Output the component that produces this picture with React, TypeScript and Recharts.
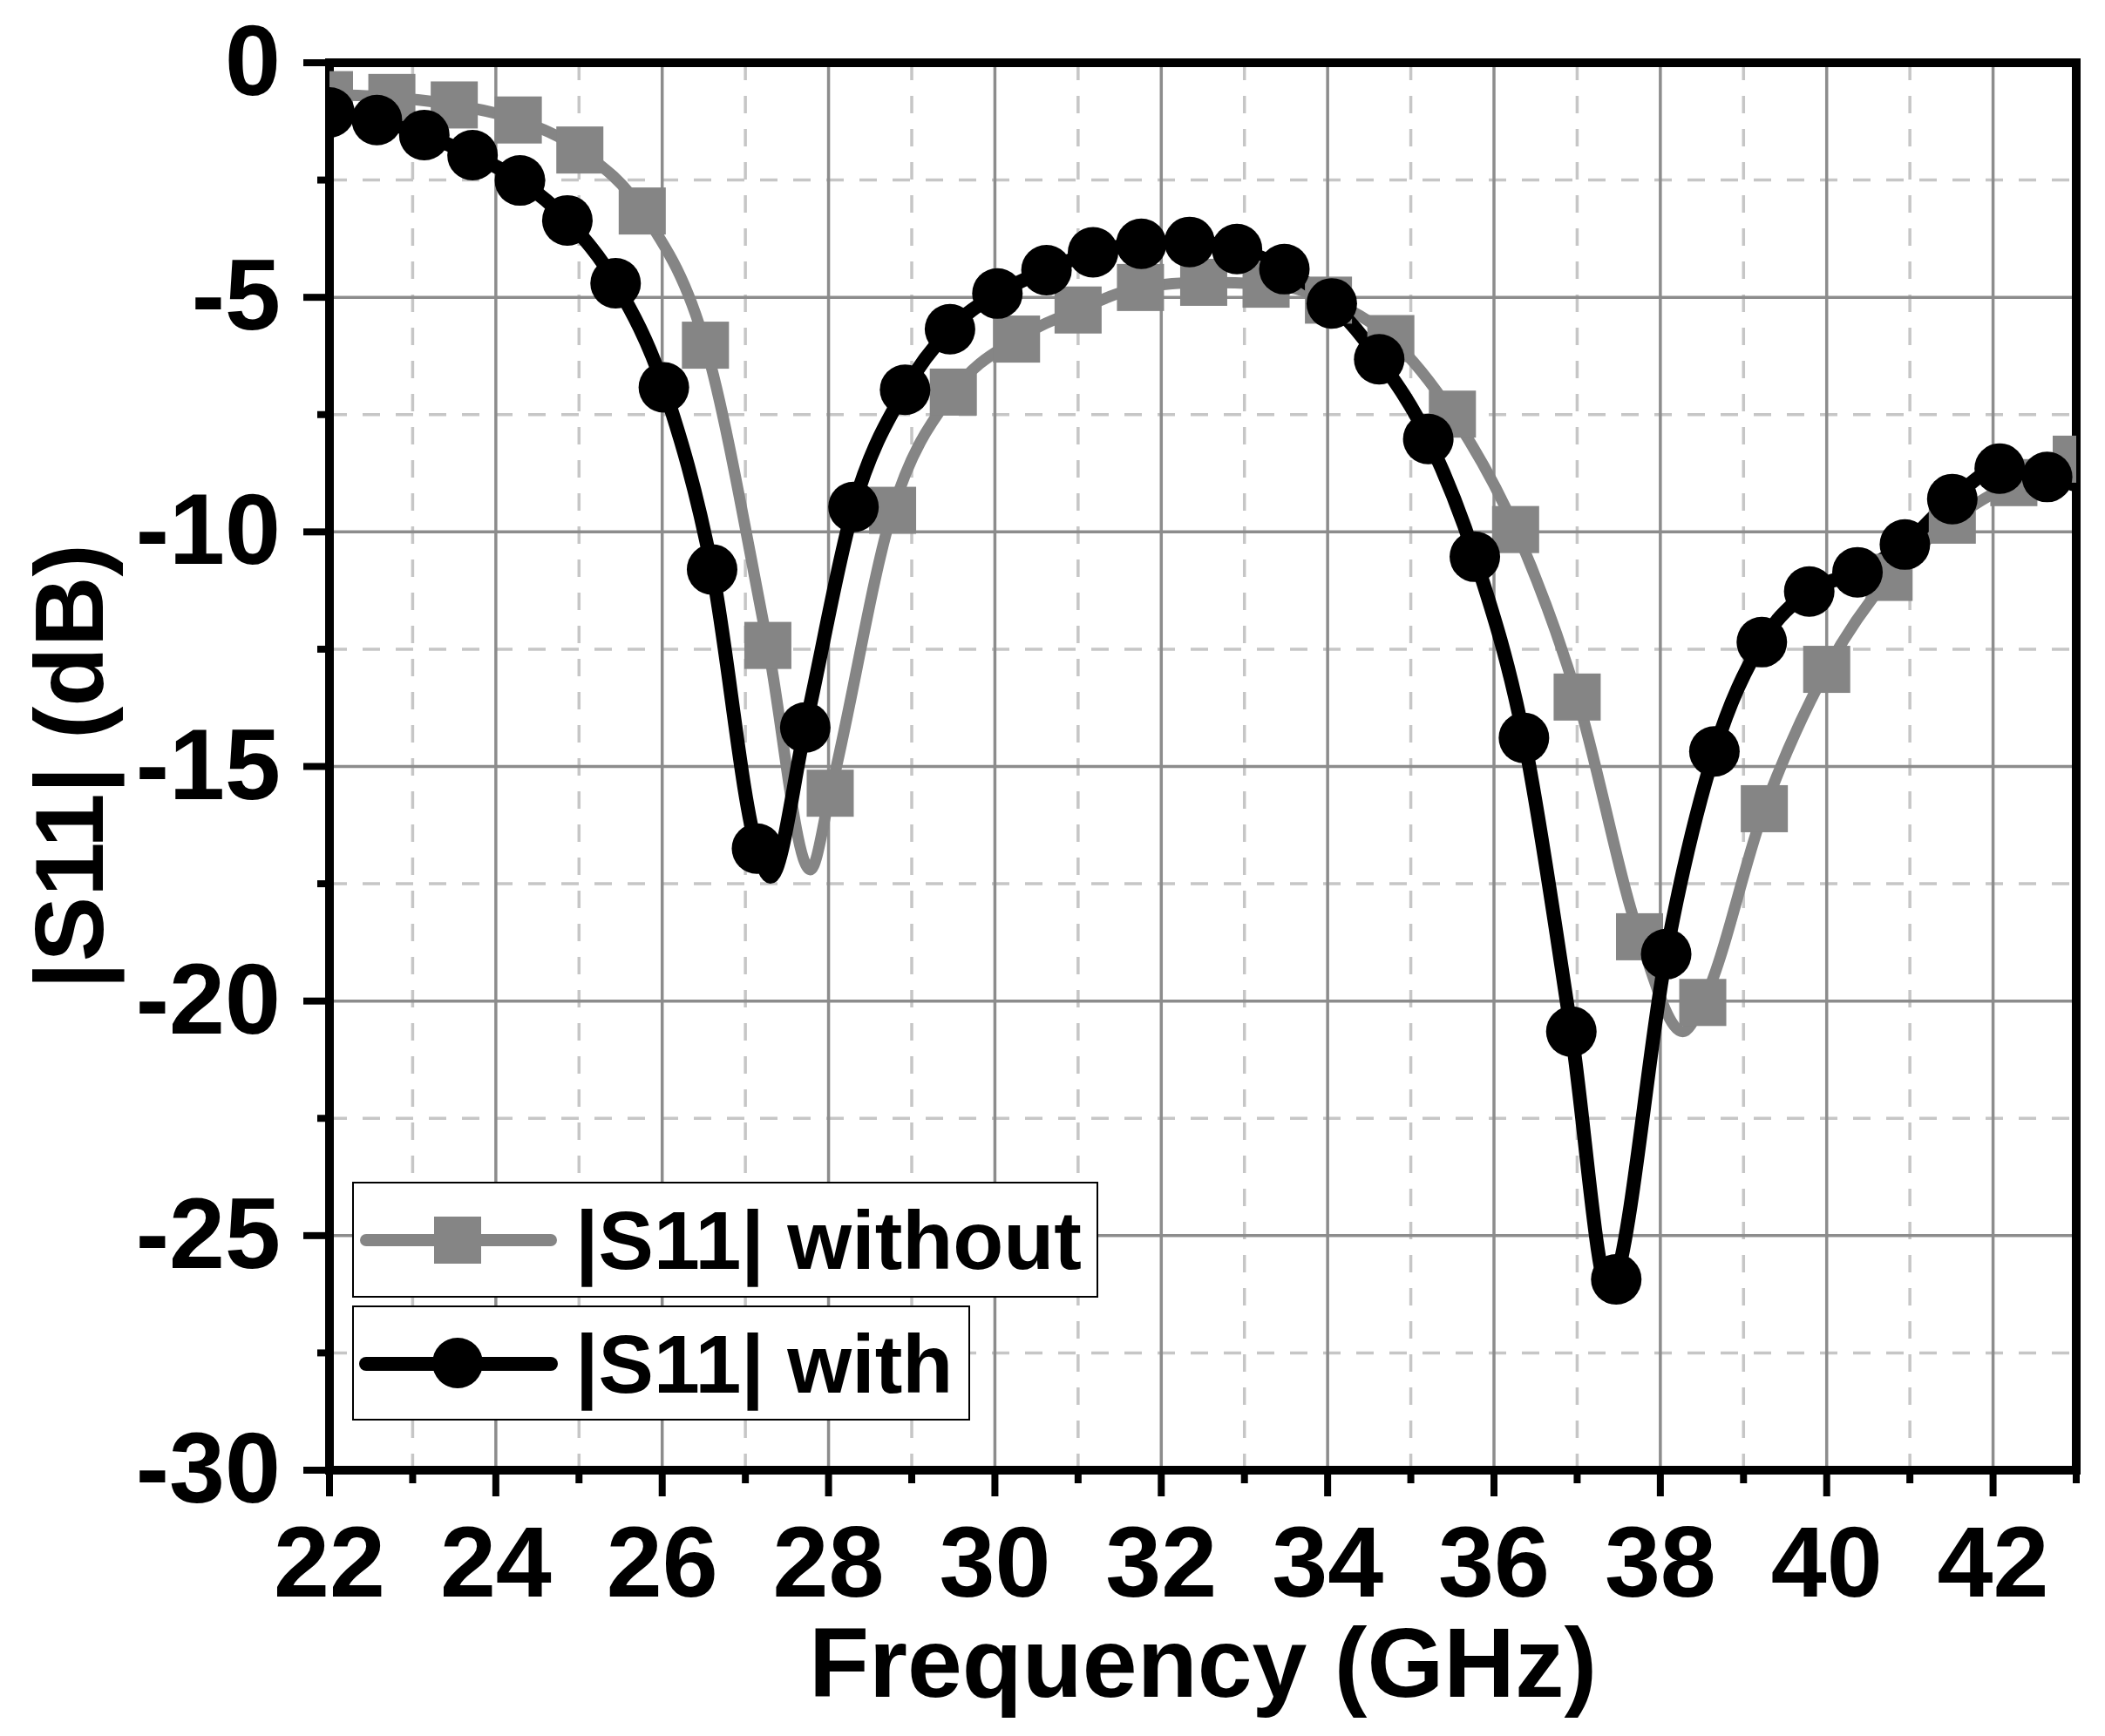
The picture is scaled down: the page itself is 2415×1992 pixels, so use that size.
import React from 'react';
import { ComposedChart, Line, XAxis, YAxis, CartesianGrid, Legend, ReferenceLine } from 'recharts';

// ---------- data ----------
// |S11| without : marker frequencies (GHz) and values (dB)
const withoutFreq = [22.0, 22.75, 23.5, 24.27, 25.01, 25.76, 26.52, 27.27, 28.02, 28.77, 29.5, 30.26, 31.0, 31.75, 32.51, 33.26, 34.01, 34.76, 35.5, 36.26, 37.0, 37.75, 38.51, 39.25, 40.0, 40.75, 41.51, 42.25, 43.0];
const withoutS11 = [-0.68, -0.74, -0.9, -1.22, -1.86, -3.16, -6.02, -12.42, -15.57, -9.54, -7.02, -5.89, -5.27, -4.79, -4.68, -4.72, -5.06, -5.88, -7.49, -9.95, -13.52, -18.63, -20.03, -15.9, -12.93, -10.97, -9.75, -8.95, -8.45];
// curve vertices between markers (resonance minima)
const withoutCurveFreq = [27.78, 38.27];
const withoutCurveS11 = [-17.2, -20.65];

// |S11| with : marker frequencies (GHz) and values (dB)
const withFreq = [22.0, 22.57, 23.14, 23.72, 24.29, 24.86, 25.44, 26.02, 26.6, 27.14, 27.72, 28.3, 28.92, 29.46, 30.03, 30.62, 31.18, 31.76, 32.34, 32.91, 33.48, 34.05, 34.62, 35.21, 35.77, 36.36, 36.93, 37.47, 38.07, 38.65, 39.22, 39.79, 40.37, 40.94, 41.51, 42.08, 42.65];
const withS11 = [-1.06, -1.22, -1.54, -1.97, -2.51, -3.36, -4.7, -6.92, -10.8, -16.75, -14.17, -9.47, -6.97, -5.68, -4.92, -4.42, -4.04, -3.86, -3.82, -3.97, -4.4, -5.13, -6.32, -8.02, -10.53, -14.39, -20.65, -25.93, -19.0, -14.68, -12.35, -11.27, -10.86, -10.27, -9.3, -8.65, -8.83];
const withCurveFreq = [27.3, 37.4, 43.0];
const withCurveS11 = [-17.35, -26.3, -9.0];

// axes
const xDomain = [22, 43];
const yDomain = [-30, 0];
const xTicks = [22, 23, 24, 25, 26, 27, 28, 29, 30, 31, 32, 33, 34, 35, 36, 37, 38, 39, 40, 41, 42, 43];
const yTicks = [-30, -27.5, -25, -22.5, -20, -17.5, -15, -12.5, -10, -7.5, -5, -2.5, 0];
const xMajorGrid = [22, 24, 26, 28, 30, 32, 34, 36, 38, 40, 42];
const xMinorGrid = [23, 25, 27, 29, 31, 33, 35, 37, 39, 41, 43];
const yMajorGrid = [-30, -25, -20, -15, -10, -5, 0];
const yMinorGrid = [-27.5, -22.5, -17.5, -12.5, -7.5, -2.5];

const seriesNames = ['|S11| without', '|S11| with'];
const xTitle = 'Frequency (GHz)';
const yTitle = '|S11| (dB)';

// ---------- layout / style ----------
const W = 2400;
const H = 1970;
const M_TOP = 64;
const Y_AXIS_W = 370;
const PLOT_W = 2004;
const PLOT_H = 1615;
const M_RIGHT = W - Y_AXIS_W - PLOT_W;
const X_AXIS_H = H - M_TOP - PLOT_H;
const FONT = "'Liberation Sans', Arial, Helvetica, sans-serif";
const GRAY = '#858585';
const BLACK = '#000000';

type Pt = { f: number; db: number; marker: boolean };
function buildSeries(freq: number[], s11: number[], cf: number[], cs: number[]): Pt[] {
  const pts: Pt[] = freq.map((f, i) => ({ f, db: s11[i], marker: true }));
  cf.forEach((f, i) => pts.push({ f, db: cs[i], marker: false }));
  return pts.sort((a, b) => a.f - b.f);
}
const withoutData = buildSeries(withoutFreq, withoutS11, withoutCurveFreq, withoutCurveS11);
const withData = buildSeries(withFreq, withS11, withCurveFreq, withCurveS11);

const plotClip = (id: string) => (
  <defs>
    <clipPath id={id}>
      <rect x={Y_AXIS_W} y={M_TOP} width={PLOT_W} height={PLOT_H} />
    </clipPath>
  </defs>
);

const squareDot = (props: any) => {
  const { cx, cy, payload, index } = props;
  if (!payload || !payload.marker || cx == null || cy == null) return <g key={`sq-${index}`} />;
  const id = `clip-sq-${index}`;
  return (
    <g key={`sq-${index}`}>
      {plotClip(id)}
      <rect x={cx - 27} y={cy - 27} width={54} height={54} fill={GRAY} clipPath={`url(#${id})`} />
    </g>
  );
};

const circleDot = (props: any) => {
  const { cx, cy, payload, index } = props;
  if (!payload || !payload.marker || cx == null || cy == null) return <g key={`ci-${index}`} />;
  const id = `clip-ci-${index}`;
  return (
    <g key={`ci-${index}`}>
      {plotClip(id)}
      <circle cx={cx} cy={cy} r={29} fill={BLACK} clipPath={`url(#${id})`} />
    </g>
  );
};

const XTick = (props: any) => {
  const { x, y, payload } = props;
  const v = payload.value;
  const major = Math.abs(v % 2) < 1e-6;
  return (
    <g>
      <line x1={x} x2={x} y1={y} y2={y + (major ? 30 : 15)} stroke={BLACK} strokeWidth={8} />
      {major && (
        <text x={x} y={y + 145} textAnchor="middle" fontSize={115} fontWeight={700} fontFamily={FONT} fill={BLACK}>
          {String(v)}
        </text>
      )}
    </g>
  );
};

const YTick = (props: any) => {
  const { x, y, payload } = props;
  const v = payload.value;
  const major = Math.abs(v % 5) < 1e-6;
  return (
    <g>
      <line x1={x} x2={x - (major ? 30 : 14)} y1={y} y2={y} stroke={BLACK} strokeWidth={8} />
      {major && (
        <text x={x - 56} y={y + 37} textAnchor="end" fontSize={115} fontWeight={700} fontFamily={FONT} fill={BLACK}>
          {String(v)}
        </text>
      )}
    </g>
  );
};

const XTitle = () => (
  <text x={Y_AXIS_W + PLOT_W / 2} y={M_TOP + PLOT_H + 260} textAnchor="middle" fontSize={113} fontWeight={700} fontFamily={FONT} fill={BLACK}>
    {xTitle}
  </text>
);

const YTitle = () => (
  <text
    transform={`translate(110, ${M_TOP + PLOT_H / 2}) rotate(-90)`}
    textAnchor="middle"
    fontSize={112}
    fontWeight={700}
    fontFamily={FONT}
    fill={BLACK}
  >
    {yTitle}
  </text>
);

const legendBoxes = [
  { name: seriesNames[0], color: GRAY, shape: 'square', w: 856, h: 133, top: 0 },
  { name: seriesNames[1], color: BLACK, shape: 'circle', w: 709, h: 132, top: 142 },
];

const LegendContent = () => (
  <div style={{ position: 'relative', width: 860, height: 280 }}>
    {legendBoxes.map((b) => (
      <svg key={b.name} width={b.w} height={b.h} style={{ position: 'absolute', left: 0, top: b.top, overflow: 'visible' }}>
        <rect x={1} y={1} width={b.w - 2} height={b.h - 2} fill="#fff" stroke={BLACK} strokeWidth={2} />
        <line x1={16} x2={228} y1={67} y2={67} stroke={b.color} strokeWidth={b.shape === 'square' ? 14 : 16} strokeLinecap="round" />
        {b.shape === 'square' ? (
          <rect x={121 - 27} y={67 - 27} width={54} height={54} fill={b.color} />
        ) : (
          <circle cx={121} cy={66} r={29} fill={b.color} />
        )}
        <text x={256} y={100} fontSize={95} fontWeight={700} fontFamily={FONT} fill={BLACK}>
          {b.name}
        </text>
      </svg>
    ))}
  </div>
);

const frameLine = { stroke: BLACK, strokeWidth: 10, strokeLinecap: 'square' as const };

export default function App() {
  return (
    <div style={{ width: W, height: H, background: '#fff' }}>
      <ComposedChart width={W} height={H} margin={{ top: M_TOP, right: M_RIGHT, bottom: 0, left: 0 }} style={{ fontFamily: FONT }}>
        <CartesianGrid
          horizontalValues={yMinorGrid}
          verticalValues={xMinorGrid}
          stroke="#c6c6c6"
          strokeWidth={3.5}
          strokeDasharray="20 18"
          fill="none"
        />
        <CartesianGrid horizontalValues={yMajorGrid} verticalValues={xMajorGrid} stroke="#8c8c8c" strokeWidth={3.5} fill="none" />
        <XAxis
          dataKey="f"
          type="number"
          domain={xDomain}
          ticks={xTicks}
          interval={0}
          allowDataOverflow
          height={X_AXIS_H}
          tickSize={0}
          tickMargin={0}
          tickLine={false}
          tick={<XTick />}
          axisLine={frameLine}
          label={<XTitle />}
        />
        <YAxis
          type="number"
          domain={yDomain}
          ticks={yTicks}
          interval={0}
          allowDataOverflow
          width={Y_AXIS_W}
          tickSize={0}
          tickMargin={0}
          tickLine={false}
          tick={<YTick />}
          axisLine={frameLine}
          label={<YTitle />}
        />
        <Line
          data={withoutData}
          dataKey="db"
          name={seriesNames[0]}
          type="monotone"
          stroke={GRAY}
          strokeWidth={13}
          strokeLinejoin="round"
          dot={squareDot}
          activeDot={false}
          isAnimationActive={false}
        />
        <Line
          data={withData}
          dataKey="db"
          name={seriesNames[1]}
          type="monotone"
          stroke={BLACK}
          strokeWidth={16}
          strokeLinejoin="round"
          dot={circleDot}
          activeDot={false}
          isAnimationActive={false}
        />
        <ReferenceLine y={yDomain[1]} stroke={BLACK} strokeWidth={10} strokeLinecap="square" ifOverflow="visible" />
        <ReferenceLine x={xDomain[1]} stroke={BLACK} strokeWidth={10} strokeLinecap="square" ifOverflow="visible" />
        <Legend
          layout="horizontal"
          verticalAlign="middle"
          align="center"
          content={() => <LegendContent />}
          wrapperStyle={{ left: 396, top: 1348, width: 860, height: 280 }}
        />
      </ComposedChart>
    </div>
  );
}
